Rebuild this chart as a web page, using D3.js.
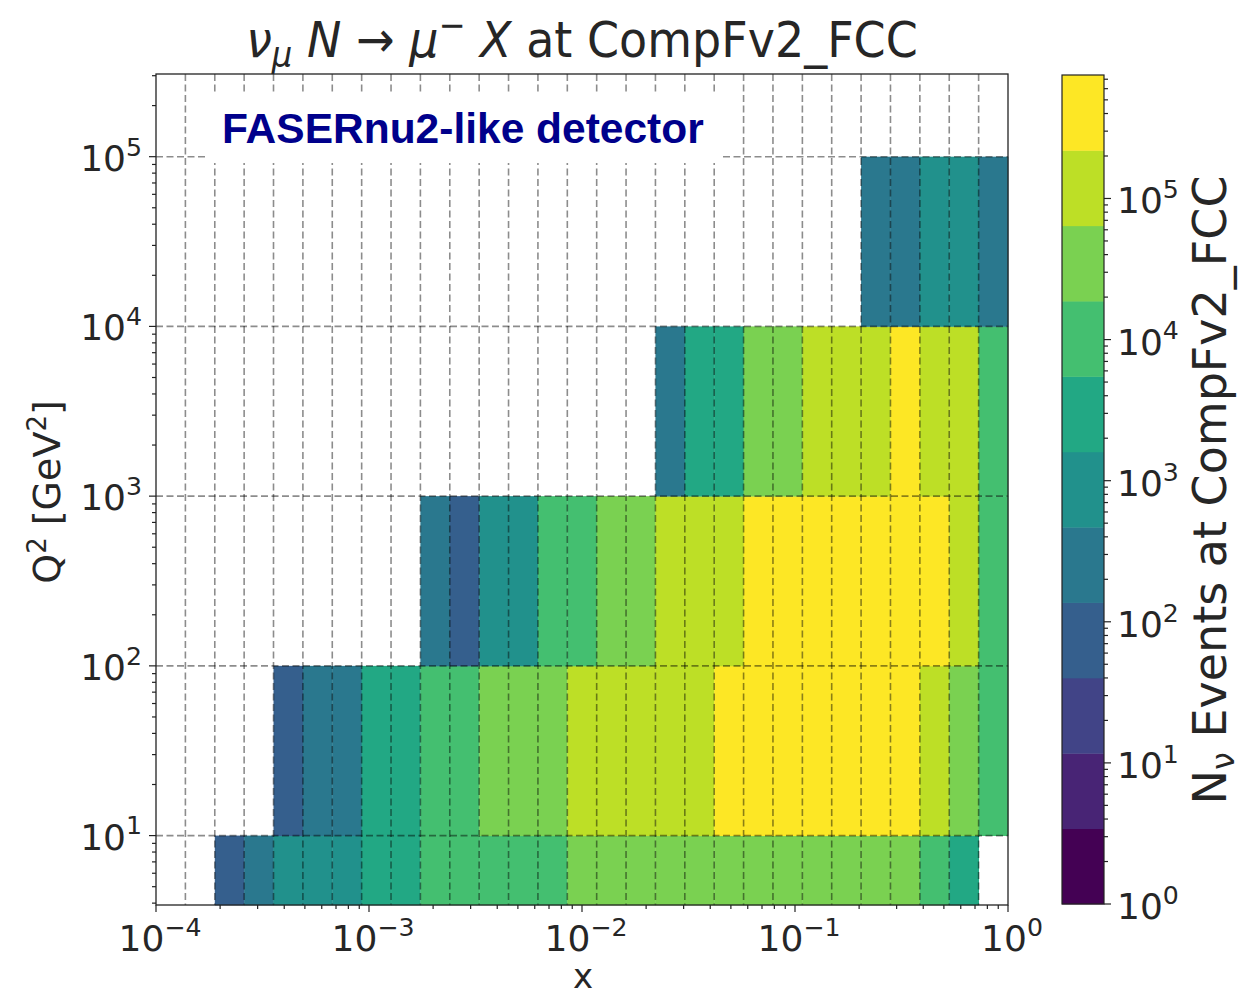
<!DOCTYPE html>
<html><head><meta charset="utf-8">
<script src="https://cdn.jsdelivr.net/npm/d3@7"></script>
<style>body{margin:0;background:#fff} svg text{font-family:"DejaVu Sans",sans-serif;fill:#262626}</style>
</head><body><svg id="c" width="1242" height="999"></svg>
<script>
// ---- data ----
const xEdges = [1.0e-4,1.374e-4,1.888e-4,2.593e-4,3.562e-4,4.894e-4,6.723e-4,9.237e-4,1.269e-3,1.743e-3,
  2.395e-3,3.290e-3,4.520e-3,6.210e-3,8.532e-3,1.172e-2,1.610e-2,2.212e-2,3.039e-2,4.175e-2,
  5.736e-2,7.880e-2,0.1083,0.1487,0.2043,0.2807,0.3857,0.5298,0.7279,1.0];
const q2Edges = [3.9, 10, 100, 1000, 10000, 100000];
const rowQ2a = [null,null,90,300,700,950,1200,2600,3800,7000,8500,10000,11500,13000,22000,25000,28000,30000,32000,34000,35000,35000,34000,32000,29000,24000,14000,4000,null];
const rowQ2b = [null,null,null,null,110,250,400,2200,3500,8000,13000,24000,33000,45000,75000,95000,120000,150000,190000,240000,290000,330000,350000,340000,310000,250000,150000,50000,9000];
const rowQ2c = [null,null,null,null,null,null,null,null,null,200,100,600,1100,7000,14000,26000,45000,75000,110000,170000,240000,300000,360000,380000,370000,320000,240000,130000,12000];
const rowQ2d = [null,null,null,null,null,null,null,null,null,null,null,null,null,null,null,null,null,250,2000,3800,24000,45000,75000,110000,170000,240000,190000,100000,11000];
const rowQ2e = [null,null,null,null,null,null,null,null,null,null,null,null,null,null,null,null,null,null,null,null,null,null,null,null,200,350,700,1000,300];
const counts = [rowQ2a,rowQ2b,rowQ2c,rowQ2d,rowQ2e];
const xTicks = [1e-4,1e-3,1e-2,1e-1,1];
const xTickExp = ["−4","−3","−2","−1","0"];
const yTicks = [10,100,1000,10000,100000];
const yTickExp = ["1","2","3","4","5"];
const cbTicks = [1,10,100,1000,10000,100000];
const cbTickExp = ["0","1","2","3","4","5"];
const cbLevels = 11;
const cbMax = 7.5e5;
const xDomain = [1e-4, 1];
const yDomain = [3.9, 3.07e5];

// ---- layout ----
const svg = d3.select("#c");
const L=156, R=1008, T=74, B=905;
const x = d3.scaleLog().domain(xDomain).range([L,R]);
const y = d3.scaleLog().domain(yDomain).range([B,T]);
const CBL=1062, CBR=1104, CBT=75, CBB=904;
const cb = d3.scaleLog().domain([1,cbMax]).range([CBB,CBT]);
const lmax = Math.log10(cbMax);
function colorOf(v){
  let idx = Math.floor(Math.log10(v)/lmax*cbLevels);
  idx = Math.max(0, Math.min(cbLevels-1, idx));
  return d3.interpolateViridis(idx/(cbLevels-1));
}

// cells
const cells = [];
counts.forEach((row,r)=>row.forEach((v,k)=>{ if(v!=null) cells.push({r,k,v}); }));
svg.append("g").selectAll("rect").data(cells).join("rect")
  .attr("x",d=>x(xEdges[d.k])).attr("width",d=>x(xEdges[d.k+1])-x(xEdges[d.k])+0.4)
  .attr("y",d=>y(q2Edges[d.r+1])).attr("height",d=>y(q2Edges[d.r])-y(q2Edges[d.r+1])+0.4)
  .attr("fill",d=>colorOf(d.v));

// grid
const grid = svg.append("g").attr("stroke","#000").attr("stroke-opacity",0.45)
  .attr("stroke-width",1.6).attr("stroke-dasharray","7,3.5");
grid.selectAll(".gv").data(xEdges.slice(1,-1)).join("line")
  .attr("x1",d=>x(d)).attr("x2",d=>x(d)).attr("y1",T).attr("y2",B);
grid.selectAll(".gh").data(yTicks).join("line")
  .attr("x1",L).attr("x2",R).attr("y1",d=>y(d)).attr("y2",d=>y(d));

// annotation box
svg.append("rect").attr("x",208).attr("y",92).attr("width",515).attr("height",71).attr("fill","#fff");
svg.append("text").attr("x",222).attr("y",143).text("FASERnu2-like detector")
  .style("font-family","'Liberation Sans',Arial,sans-serif").style("font-weight","bold")
  .style("font-size","42.5px").style("fill","#00008b");

// frame
svg.append("rect").attr("x",L).attr("y",T).attr("width",R-L).attr("height",B-T)
  .attr("fill","none").attr("stroke","#222").attr("stroke-width",1.3);

// ticks helper
function minorTicks(d0,d1){
  const out=[];
  for(let e=Math.floor(Math.log10(d0));e<=Math.ceil(Math.log10(d1));e++)
    for(let m=2;m<=9;m++){const v=m*Math.pow(10,e); if(v>=d0&&v<=d1) out.push(v);}
  return out;
}
const tk = svg.append("g").attr("stroke","#222").attr("stroke-width",1.2);
tk.selectAll(".xM").data(xTicks).join("line").attr("x1",d=>x(d)).attr("x2",d=>x(d)).attr("y1",B).attr("y2",B+7);
tk.selectAll(".xm").data(minorTicks(xDomain[0],xDomain[1])).join("line").attr("x1",d=>x(d)).attr("x2",d=>x(d)).attr("y1",B).attr("y2",B+4);
tk.selectAll(".yM").data(yTicks).join("line").attr("y1",d=>y(d)).attr("y2",d=>y(d)).attr("x1",L).attr("x2",L-7);
tk.selectAll(".ym").data(minorTicks(yDomain[0],yDomain[1])).join("line").attr("y1",d=>y(d)).attr("y2",d=>y(d)).attr("x1",L).attr("x2",L-4);

function powLabel(g, px, py, exp, size, anchor){
  const t = g.append("text").attr("x",px).attr("y",py).attr("text-anchor",anchor).style("font-size",size+"px");
  t.append("tspan").text("10");
  t.append("tspan").attr("dy",-0.42*size).style("font-size",(size*0.7)+"px").text(exp);
  return t;
}
const lab = svg.append("g");
xTicks.forEach((v,i)=>powLabel(lab, x(v)+4, 951, xTickExp[i], 36, "middle"));
yTicks.forEach((v,i)=>powLabel(lab, L-14, y(v)+14, yTickExp[i], 36, "end"));

// axis labels
svg.append("text").attr("x",583).attr("y",988).attr("text-anchor","middle").style("font-size","34px").text("x");
const yl = svg.append("g").attr("transform",`translate(60,492) rotate(-90)`)
  .append("text").attr("text-anchor","middle").style("font-size","38px");
yl.append("tspan").text("Q");
yl.append("tspan").attr("dy",-14).style("font-size","26px").text("2");
yl.append("tspan").attr("dy",14).text(" [GeV");
yl.append("tspan").attr("dy",-14).style("font-size","26px").text("2");
yl.append("tspan").attr("dy",14).text("]");

// title
const tt = svg.append("g").attr("transform",`translate(582,57) scale(0.92,1)`)
  .append("text").attr("text-anchor","middle").style("font-size","50px");
tt.append("tspan").style("font-style","italic").text("ν");
tt.append("tspan").attr("dy",10).style("font-size","35px").style("font-style","italic").text("μ");
tt.append("tspan").attr("dy",-10).text(" ");
tt.append("tspan").style("font-style","italic").text("N");
tt.append("tspan").text(" → ");
tt.append("tspan").style("font-style","italic").text("μ");
tt.append("tspan").attr("dy",-20).style("font-size","35px").text("−");
tt.append("tspan").attr("dy",20).text(" ");
tt.append("tspan").style("font-style","italic").text("X");
tt.append("tspan").text(" at CompFv2_FCC");

// colorbar
const bands = d3.range(cbLevels);
svg.append("g").selectAll("rect").data(bands).join("rect")
  .attr("x",CBL).attr("width",CBR-CBL)
  .attr("y",i=>cb(Math.pow(10,(i+1)*lmax/cbLevels)))
  .attr("height",i=>cb(Math.pow(10,i*lmax/cbLevels))-cb(Math.pow(10,(i+1)*lmax/cbLevels))+0.4)
  .attr("fill",i=>d3.interpolateViridis(i/(cbLevels-1)));
svg.append("rect").attr("x",CBL).attr("y",CBT).attr("width",CBR-CBL).attr("height",CBB-CBT)
  .attr("fill","none").attr("stroke","#222").attr("stroke-width",1.2);
tk.selectAll(".cM").data(cbTicks).join("line").attr("y1",d=>cb(d)).attr("y2",d=>cb(d)).attr("x1",CBR).attr("x2",CBR+7);
tk.selectAll(".cm").data(minorTicks(1,cbMax)).join("line").attr("y1",d=>cb(d)).attr("y2",d=>cb(d)).attr("x1",CBR).attr("x2",CBR+4);
cbTicks.forEach((v,i)=>powLabel(lab, CBR+13, cb(v)+15, cbTickExp[i], 36, "start"));

const cl = svg.append("g").attr("transform",`translate(1226,490) rotate(-90)`)
  .append("text").attr("text-anchor","middle").style("font-size","46px");
cl.append("tspan").text("N");
cl.append("tspan").attr("dy",8).style("font-size","32px").text("ν");
cl.append("tspan").attr("dy",-8).text(" Events at CompFv2_FCC");
</script></body></html>
